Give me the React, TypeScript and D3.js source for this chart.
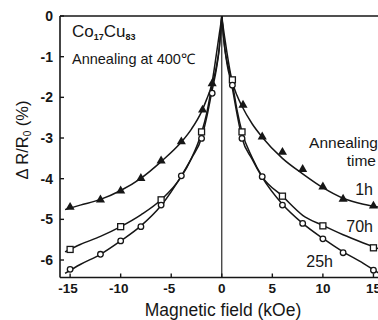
import * as d3 from 'd3';

// Marker data: magnetic field (kOe) and ΔR/R0 (%)
const fieldTri = [-15, -12, -10, -8, -6, -4, -1.9, -0.95, 2.1, 4, 6, 8, 10, 12, 15];
const valTri = [-4.70, -4.52, -4.30, -3.99, -3.56, -3.09, -2.31, -1.66, -2.19, -2.97, -3.35, -3.77, -4.20, -4.50, -4.67];

const fieldSq = [-15, -10, -6, -2, 1.05, 2, 6, 10, 15];
const valSq = [-5.74, -5.18, -4.52, -2.85, -1.57, -2.85, -4.43, -5.16, -5.70];

const fieldCirc = [-15, -12, -10, -8, -6, -4, -2, -0.95, 1.05, 2, 4, 6, 8, 10, 12, 15];
const valCirc = [-6.23, -5.86, -5.53, -5.18, -4.65, -3.93, -3.01, -1.90, -1.70, -3.01, -3.95, -4.65, -5.10, -5.48, -5.82, -6.25];

// Fitted curves (left and right branches)
const curveFieldL = [-15.5, -14, -12, -10, -8, -6, -4, -3, -2, -1.5, -1, -0.5, -0.25, -0.1, 0];
const curve1hL = [-4.76, -4.65, -4.51, -4.29, -3.99, -3.58, -3.10, -2.78, -2.35, -2.05, -1.68, -0.88, -0.45, -0.2, 0];
const curve70hL = [-5.80, -5.62, -5.42, -5.18, -4.89, -4.52, -3.95, -3.50, -2.87, -2.40, -1.75, -1.20, -0.78, -0.35, 0];
const curve25hL = [-6.33, -6.11, -5.86, -5.53, -5.16, -4.66, -3.93, -3.50, -3.00, -2.50, -1.88, -1.25, -0.80, -0.35, 0];

const curveFieldR = [0, 0.1, 0.3, 0.5, 1, 1.5, 2, 3, 4, 6, 8, 10, 12, 14, 15.5];
const curve1hR = [0, -0.2, -0.55, -0.88, -1.58, -1.95, -2.22, -2.65, -2.98, -3.50, -3.88, -4.22, -4.48, -4.63, -4.70];
const curve70hR = [0, -0.3, -0.8, -1.1, -1.6, -2.3, -2.85, -3.48, -3.95, -4.43, -4.90, -5.15, -5.38, -5.58, -5.72];
const curve25hR = [0, -0.3, -0.8, -1.15, -1.72, -2.4, -3.0, -3.52, -3.97, -4.63, -5.10, -5.47, -5.80, -6.08, -6.32];

const xTicks = [-15, -10, -5, 0, 5, 10, 15];
const yTicks = [0, -1, -2, -3, -4, -5, -6];

const W = 378;
const H = 320;
const font = '"Liberation Sans", Arial, sans-serif';
const ink = '#161616';

export default function App() {
  const x = d3.scaleLinear().domain([-16, 15.45]).range([60, 378]);
  const y = d3.scaleLinear().domain([-6.43, 0]).range([277.5, 16]);

  const line = d3
    .line<[number, number]>()
    .x((d) => x(d[0]))
    .y((d) => y(d[1]))
    .curve(d3.curveMonotoneX);

  // left and right branches drawn separately so the cusp at 0 stays sharp
  const branches = [curve1hL, curve70hL, curve25hL].map((v) => curveFieldL.map((f, i) => [f, v[i]] as [number, number]))
    .concat([curve1hR, curve70hR, curve25hR].map((v) => curveFieldR.map((f, i) => [f, v[i]] as [number, number])));

  const tri = d3.symbol().type(d3.symbolTriangle).size(36)();

  return (
    <svg width={W} height={H} style={{ position: 'absolute', left: 0, top: 0, background: '#fff' }}>
      {/* frame */}
      <g stroke={ink} strokeWidth={1.6} fill="none">
        <line x1={x(-16)} y1={y(0)} x2={378} y2={y(0)} />
        <line x1={x(-16)} y1={y(0)} x2={x(-16)} y2={y(-6.43)} />
        <line x1={x(-16)} y1={y(-6.43)} x2={378} y2={y(-6.43)} />
        <line x1={x(0)} y1={y(0)} x2={x(0)} y2={y(-6.43)} strokeWidth={1.1} />
      </g>

      {/* y ticks */}
      {yTicks.map((t) => (
        <g key={'y' + t}>
          <line x1={x(-16)} x2={x(-16) + 4} y1={y(t)} y2={y(t)} stroke={ink} strokeWidth={1.4} />
          <text x={53} y={y(t) + 5} textAnchor="end" fontFamily={font} fontSize={14} fontWeight="bold" fill={ink}>
            {t === 0 ? '0' : '-' + Math.abs(t)}
          </text>
        </g>
      ))}

      {/* x ticks */}
      {xTicks.map((t) => (
        <g key={'x' + t}>
          <line x1={x(t)} x2={x(t)} y1={y(-6.43)} y2={y(-6.43) - 4} stroke={ink} strokeWidth={1.4} />
          <text x={x(t) - (t < 0 ? 2 : 0)} y={293} textAnchor="middle" fontFamily={font} fontSize={13.5} fontWeight="bold" fill={ink}>
            {t < 0 ? '-' + Math.abs(t) : String(t)}
          </text>
        </g>
      ))}

      {/* curves */}
      {branches.map((b, i) => (
        <path key={'c' + i} d={line(b) || ''} fill="none" stroke={ink} strokeWidth={1.5} />
      ))}

      {/* markers */}
      {fieldTri.map((f, i) => (
        <path key={'t' + i} d={tri || ''} transform={`translate(${x(f)},${y(valTri[i])})`} fill={ink} />
      ))}
      {fieldSq.map((f, i) => (
        <rect key={'s' + i} x={x(f) - 3} y={y(valSq[i]) - 3} width={6} height={6} fill="#fff" stroke={ink} strokeWidth={1.3} />
      ))}
      {fieldCirc.map((f, i) => (
        <circle key={'o' + i} cx={x(f)} cy={y(valCirc[i])} r={2.8} fill="#fff" stroke={ink} strokeWidth={1.3} />
      ))}

      {/* annotations */}
      <text x={72} y={37} fontFamily={font} fontSize={17} fill={ink}>
        Co<tspan fontSize={9} fontWeight="bold" dy={3}>17</tspan>
        <tspan dy={-3}>Cu</tspan>
        <tspan fontSize={9} fontWeight="bold" dy={3}>83</tspan>
      </text>
      <text x={72} y={64} fontFamily={font} fontSize={14.5} fill={ink}>
        Annealing  at 400℃
      </text>
      <text x={378} y={148} textAnchor="end" fontFamily={font} fontSize={15.5} fill={ink}>Annealing</text>
      <text x={376} y={166} textAnchor="end" fontFamily={font} fontSize={15.5} fill={ink}>time</text>
      <text x={373} y={195} textAnchor="end" fontFamily={font} fontSize={16} fill={ink}>1h</text>
      <text x={373} y={232} textAnchor="end" fontFamily={font} fontSize={16} fill={ink}>70h</text>
      <text x={333} y={267} textAnchor="end" fontFamily={font} fontSize={16} fill={ink}>25h</text>

      {/* axis titles */}
      <text x={223} y={316} textAnchor="middle" fontFamily={font} fontSize={17.5} fill={ink}>
        Magnetic field (kOe)
      </text>
      <text transform="translate(28,140) rotate(-90)" textAnchor="middle" fontFamily={font} fontSize={16.5} fill={ink}>
        Δ R/R<tspan fontSize={10} dy={3}>0</tspan><tspan dy={-3}> (%)</tspan>
      </text>
    </svg>
  );
}
